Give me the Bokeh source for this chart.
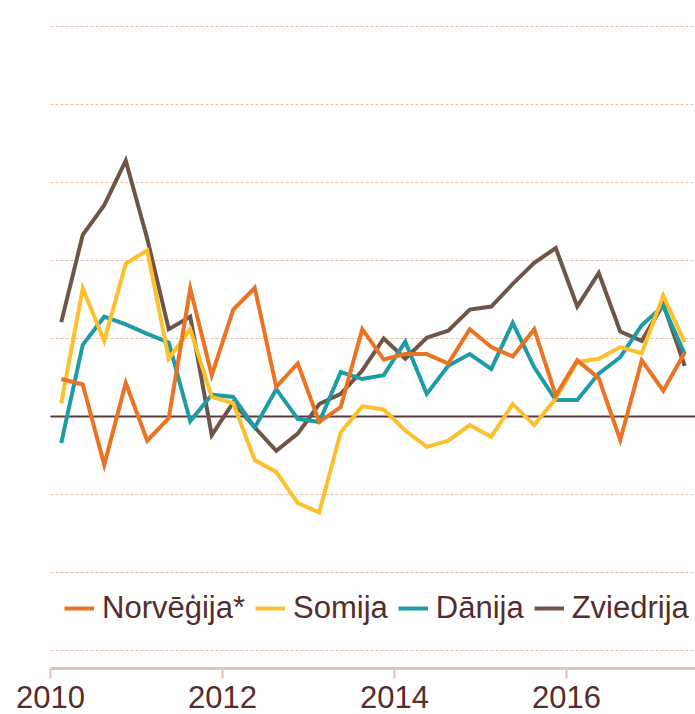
from bokeh.plotting import figure
from bokeh.models import Range1d, FixedTicker, Legend, LegendItem
from bokeh.embed import file_html
from bokeh.resources import INLINE

quarters = ["2010Q1", "2010Q2", "2010Q3", "2010Q4", "2011Q1", "2011Q2", "2011Q3", "2011Q4",
            "2012Q1", "2012Q2", "2012Q3", "2012Q4", "2013Q1", "2013Q2", "2013Q3", "2013Q4",
            "2014Q1", "2014Q2", "2014Q3", "2014Q4", "2015Q1", "2015Q2", "2015Q3", "2015Q4",
            "2016Q1", "2016Q2", "2016Q3", "2016Q4", "2017Q1", "2017Q2"]

norvegija = [0.48, 0.41, -0.62, 0.43, -0.31, -0.02, 1.64, 0.53, 1.37, 1.65, 0.38, 0.68, -0.07, 0.12, 1.12,
             0.73, 0.80, 0.80, 0.68, 1.12, 0.89, 0.77, 1.12, 0.27, 0.72, 0.49, -0.30, 0.72, 0.33, 0.82]
somija = [0.17, 1.64, 0.97, 1.96, 2.13, 0.74, 1.12, 0.25, 0.17, -0.56, -0.71, -1.11, -1.23, -0.20, 0.13,
          0.09, -0.18, -0.39, -0.31, -0.11, -0.26, 0.16, -0.11, 0.23, 0.70, 0.74, 0.89, 0.81, 1.55, 0.95]
danija = [-0.34, 0.92, 1.28, 1.18, 1.06, 0.95, -0.06, 0.28, 0.25, -0.14, 0.35, -0.03, -0.07, 0.57, 0.48,
          0.53, 0.96, 0.29, 0.65, 0.80, 0.61, 1.20, 0.63, 0.21, 0.21, 0.55, 0.76, 1.17, 1.42, 0.80]
zviedrija = [1.21, 2.33, 2.71, 3.28, 2.28, 1.12, 1.28, -0.24, 0.18, -0.14, -0.44, -0.22, 0.16, 0.29, 0.59,
             1.00, 0.74, 1.01, 1.10, 1.37, 1.41, 1.70, 1.97, 2.16, 1.41, 1.84, 1.09, 0.97, 1.44, 0.65]

series_names = ["Norvēģija*", "Somija", "Dānija", "Zviedrija"]
series_values = [norvegija, somija, danija, zviedrija]
series_colors = ["#ec7324", "#fcc02d", "#1e9ca5", "#6e5548"]

x_ticks = [2010, 2012, 2014, 2016]
x_start, x_end = 2010, 2017.5
y_grid_ticks = [-3, -2, -1, 1, 2, 3, 4, 5]
y_axis_value = -3.23

# quarter midpoints as decimal years
xs = [int(q[:4]) + (int(q[-1]) - 0.5) / 4 for q in quarters]

text_color = "#552d2d"

p = figure(width=695, height=714,
           x_range=Range1d(x_start - 50 / 86, x_end),
           y_range=Range1d(-298 / 78, 416 / 78),
           output_backend="svg", toolbar_location=None,
           y_axis_location=None, x_axis_location="below",
           min_border_left=0, min_border_right=0, min_border_top=0, min_border_bottom=0,
           outline_line_color=None, background_fill_color="white")

p.xgrid.visible = False
p.ygrid.visible = False

# dotted horizontal grid lines, starting at the x axis origin
n = len(y_grid_ticks)
p.segment(x0=[x_start] * n, y0=y_grid_ticks, x1=[x_end] * n, y1=y_grid_ticks,
          line_color="#e2c0a6", line_dash="3 2", line_width=1)
# zero line
p.segment(x0=[x_start], y0=[0], x1=[x_end], y1=[0], line_color="#5c3a3a", line_width=2)

ax = p.xaxis[0]
ax.fixed_location = y_axis_value
ax.bounds = (x_start, x_end)
ax.ticker = FixedTicker(ticks=x_ticks)
ax.axis_line_color = "#dfc5b0"
ax.axis_line_width = 3
ax.major_tick_line_color = "#dfc5b0"
ax.major_tick_line_width = 2
ax.major_tick_out = 10
ax.major_tick_in = 0
ax.minor_tick_line_color = None
ax.major_label_standoff = 8
ax.major_label_text_font = "Liberation Sans"
ax.major_label_text_font_size = "31px"
ax.major_label_text_color = text_color

renderers = {}
for name, vals, col in reversed(list(zip(series_names, series_values, series_colors))):
    r = p.line(xs, vals, line_color=col, line_width=4, line_join="miter")
    renderers[name] = r

legend = Legend(items=[LegendItem(label=nm, renderers=[renderers[nm]]) for nm in series_names],
                orientation="horizontal", location=(64, 88),
                glyph_width=30, glyph_height=20, label_standoff=8, spacing=10,
                padding=0, margin=0, border_line_alpha=0, background_fill_alpha=0,
                label_text_font="Liberation Sans", label_text_font_size="31px",
                label_text_color=text_color)
p.add_layout(legend)

open("out.html", "w").write(file_html(p, INLINE))
